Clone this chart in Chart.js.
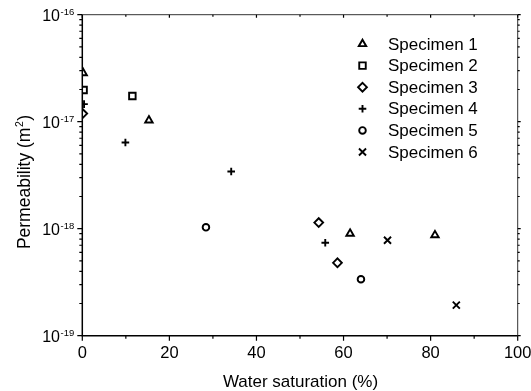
<!DOCTYPE html>
<html>
<head>
<meta charset="utf-8">
<script src="https://cdn.jsdelivr.net/npm/chart.js@4.4.0/dist/chart.umd.min.js"></script>
<style>
  html, body { margin: 0; padding: 0; background: #fff; }
  #wrap { width: 531px; height: 391px; }
</style>
</head>
<body>
<div id="wrap"><canvas id="permChart"></canvas></div>
<script>
// water saturation (%) / permeability (m2) per specimen
const specimenNames = ['Specimen 1', 'Specimen 2', 'Specimen 3', 'Specimen 4', 'Specimen 5', 'Specimen 6'];

const sat1 = [0.2, 15.3, 61.5, 81.0];
const perm1 = [2.85e-17, 1.03e-17, 9.0e-19, 8.7e-19];
const sat2 = [0.3, 11.5];
const perm2 = [1.98e-17, 1.74e-17];
const sat3 = [0.1, 54.3, 58.6];
const perm3 = [1.19e-17, 1.14e-18, 4.8e-19];
const sat4 = [0.4, 9.9, 34.2, 55.8];
const perm4 = [1.46e-17, 6.4e-18, 3.42e-18, 7.4e-19];
const sat5 = [28.4, 64.0];
const perm5 = [1.03e-18, 3.37e-19];
const sat6 = [70.1, 85.9];
const perm6 = [7.8e-19, 1.93e-19];

const xTickValues = [0, 20, 40, 60, 80, 100];
const yTickExponents = [-19, -18, -17, -16];

const allSat = [sat1, sat2, sat3, sat4, sat5, sat6];
const allPerm = [perm1, perm2, perm3, perm4, perm5, perm6];

// marker look
const markerStyles = ['triangle', 'rect', 'rectRot', 'cross', 'circle', 'crossRot'];
const markerRadius = [4.3, 4.6, 4.4, 3.8, 3.3, 5.0];
const markerLine = 1.9;
const FONT = 'Arial, "Liberation Sans", Helvetica, sans-serif';

function toPoints(xs, ys) {
    return xs.map((x, i) => ({ x: x, y: ys[i] }));
}

const datasets = specimenNames.map((name, i) => ({
    label: name,
    data: toPoints(allSat[i], allPerm[i]),
    pointStyle: markerStyles[i],
    pointRadius: markerRadius[i],
    pointBorderWidth: markerLine,
    pointBorderColor: '#000',
    pointBackgroundColor: 'rgba(0,0,0,0)',
    showLine: false,
    clip: 0
}));

// frame, ticks, labels, titles and legend drawn by hand
const axesPlugin = {
    id: 'axesPlugin',
    afterDatasetsDraw(chart) {
        const ctx = chart.ctx;
        const a = chart.chartArea;
        const xs = chart.scales.x;
        const ys = chart.scales.y;
        ctx.save();

        // top and right lines
        ctx.strokeStyle = '#333';
        ctx.lineWidth = 1;
        ctx.beginPath();
        ctx.moveTo(a.left, a.top);
        ctx.lineTo(a.right, a.top);
        ctx.lineTo(a.right, a.bottom);
        ctx.stroke();

        // left and bottom lines
        ctx.strokeStyle = '#000';
        ctx.lineWidth = 1.5;
        ctx.beginPath();
        ctx.moveTo(a.left, a.top);
        ctx.lineTo(a.left, a.bottom);
        ctx.lineTo(a.right, a.bottom);
        ctx.stroke();

        ctx.lineWidth = 1.2;
        ctx.strokeStyle = '#000';
        ctx.beginPath();
        // x ticks
        for (let v = 0; v <= 100; v += 10) {
            const px = xs.getPixelForValue(v);
            const major = v % 20 === 0;
            ctx.moveTo(px, a.bottom);
            ctx.lineTo(px, a.bottom + (major ? 5 : 3));
            ctx.moveTo(px, a.top);
            ctx.lineTo(px, a.top + (major ? 3 : 2));
        }
        // y ticks
        for (let e = -19; e <= -16; e++) {
            for (let k = 1; k <= 9; k++) {
                if (e === -16 && k > 1) break;
                const py = ys.getPixelForValue(k * Math.pow(10, e));
                const len = k === 1 ? 5 : 3;
                ctx.moveTo(a.left, py);
                ctx.lineTo(a.left - len, py);
                ctx.moveTo(a.right, py);
                ctx.lineTo(a.right + (k === 1 ? 3 : 2), py);
            }
        }
        ctx.stroke();
        ctx.restore();
    },
    afterDraw(chart) {
        const ctx = chart.ctx;
        const xs = chart.scales.x;
        const ys = chart.scales.y;
        ctx.save();
        ctx.fillStyle = '#000';

        // x tick labels
        ctx.font = '16.5px ' + FONT;
        ctx.textAlign = 'center';
        ctx.textBaseline = 'alphabetic';
        xTickValues.forEach(v => {
            ctx.fillText(String(v), xs.getPixelForValue(v), 357.5);
        });

        // y tick labels as 10 with raised exponent
        yTickExponents.forEach(e => {
            const py = ys.getPixelForValue(Math.pow(10, e));
            ctx.font = '16px ' + FONT;
            ctx.textAlign = 'right';
            ctx.fillText('10', 60, py + 6.5);
            ctx.font = '9.5px ' + FONT;
            ctx.textAlign = 'left';
            ctx.fillText(String(e), 60.5, py + 0.5);
        });

        // x axis title
        ctx.font = '17px ' + FONT;
        ctx.textAlign = 'center';
        ctx.fillText('Water saturation (%)', 300.5, 386.5);

        // y axis title, rotated
        ctx.save();
        ctx.translate(30, 182);
        ctx.rotate(-Math.PI / 2);
        const main = 'Permeability (m';
        ctx.font = '17.5px ' + FONT;
        const wMain = ctx.measureText(main).width;
        const wClose = ctx.measureText(')').width;
        ctx.font = '10.5px ' + FONT;
        const wSup = ctx.measureText('2').width;
        const total = wMain + wSup + 1 + wClose;
        let cx = -total / 2;
        ctx.textAlign = 'left';
        ctx.font = '17.5px ' + FONT;
        ctx.fillText(main, cx, 0);
        cx += wMain + 0.5;
        ctx.font = '10.5px ' + FONT;
        ctx.fillText('2', cx, -7);
        cx += wSup + 0.5;
        ctx.font = '17.5px ' + FONT;
        ctx.fillText(')', cx, 0);
        ctx.restore();

        // legend
        ctx.textAlign = 'left';
        ctx.textBaseline = 'middle';
        ctx.font = '17px ' + FONT;
        specimenNames.forEach((name, i) => {
            const ly = 44 + i * 21.6;
            ctx.strokeStyle = '#000';
            ctx.fillStyle = 'rgba(0,0,0,0)';
            ctx.lineWidth = markerLine;
            if (Chart.helpers && Chart.helpers.drawPoint) {
                Chart.helpers.drawPoint(ctx, {
                    pointStyle: markerStyles[i],
                    radius: markerRadius[i],
                    rotation: 0,
                    borderWidth: markerLine
                }, 362.5, ly);
            }
            ctx.fillStyle = '#000';
            ctx.fillText(name, 388, ly + 1);
        });
        ctx.restore();
    }
};

document.addEventListener('DOMContentLoaded', function() {
    const permCtx = document.getElementById('permChart');
    new Chart(permCtx, {
        type: 'scatter',
        data: { datasets: datasets },
        options: {
            responsive: true,
            maintainAspectRatio: false,
            animation: false,
            layout: {
                padding: { left: 82.3, right: 13.3, top: 14.7, bottom: 55.3 }
            },
            plugins: {
                legend: { display: false },
                tooltip: { enabled: false }
            },
            scales: {
                x: {
                    type: 'linear',
                    min: 0,
                    max: 100,
                    ticks: { display: false },
                    grid: { display: false },
                    border: { display: false },
                    afterFit: function(scale) { scale.height = 0; }
                },
                y: {
                    type: 'logarithmic',
                    min: 1e-19,
                    max: 1e-16,
                    ticks: { display: false },
                    grid: { display: false },
                    border: { display: false },
                    afterFit: function(scale) { scale.width = 0; }
                }
            }
        },
        plugins: [axesPlugin]
    });
});
</script>
</body>
</html>
